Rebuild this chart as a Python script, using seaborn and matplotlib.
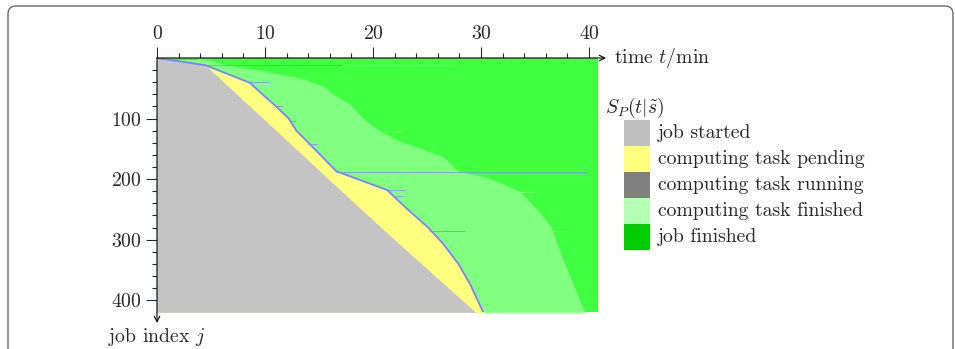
import numpy as np
import matplotlib
matplotlib.use("Agg")
import matplotlib.pyplot as plt
from matplotlib.patches import Rectangle, FancyBboxPatch
import seaborn as sns

# state boundaries per job (job index -> time t in min)
start_job = [0, 12, 136, 281, 420]
start_t = [0.0, 4.5, 12.0, 20.8, 29.5]

run_job = [0, 12, 41, 59, 78, 100, 120, 136, 187, 218, 250, 280, 307, 340, 374, 420]
run_t = [0.0, 4.5, 8.6, 9.7, 10.9, 12.2, 12.9, 13.8, 16.6, 21.3, 23.2, 25.1, 26.5, 27.9, 29.0, 30.2]

done_job = [0, 4, 9, 20, 34, 47, 61, 75, 100, 120, 136, 149, 163, 187, 197, 204,
            220, 243, 265, 280, 329, 368, 420]
done_t = [3.5, 5.0, 5.8, 9.5, 13.5, 15.5, 16.4, 17.8, 19.1, 20.6, 22.3, 24.4, 26.5,
          27.9, 30.5, 31.5, 33.6, 34.8, 35.9, 36.5, 37.5, 38.4, 39.6]

# single jobs whose computing task kept running longer
long_run_job = [2, 11, 40, 80, 104, 142, 188, 218, 228, 285]
long_run_from = [0.3, 4.2, 8.6, 11.0, 12.3, 13.9, 16.6, 21.3, 22.0, 25.2]
long_run_to = [3.8, 17.1, 10.5, 11.7, 12.9, 14.8, 39.8, 23.0, 22.8, 28.5]

# single jobs that finished late
late_job = [11, 121, 222, 285]
late_from = [17.1, 20.6, 33.6, 36.5]
late_to = [28.0, 22.7, 34.8, 38.2]

legend_labels = ["job started", "computing task pending", "computing task running",
                 "computing task finished", "job finished"]
legend_colors = ["#c0c0c0", "#ffff80", "#808080", "#b3ffb3", "#00cc00"]

n_jobs = 420
t_max = 40.8

c_started = "#c4c4c4"
c_pending = "#ffff80"
c_running = "#8080ff"
c_task_done = "#80ff80"
c_done = "#40ff40"

sns.set_style("white")
plt.rcParams["font.family"] = "serif"
plt.rcParams["font.serif"] = ["cmr10"]
plt.rcParams["mathtext.fontset"] = "cm"
plt.rcParams["axes.formatter.use_mathtext"] = True

W, H = 955, 349
fx = lambda px: px / W
fy = lambda py: 1 - py / H
fs = 14.2

fig = plt.figure(figsize=(9.55, 3.49), dpi=100)
ax = fig.add_axes([fx(157), fy(312.3), (597.7 - 157) / W, (312.3 - 58) / H])

# paint the states back to front
ax.fill_betweenx([0, n_jobs], 0, t_max, color=c_done, lw=0)
ax.fill_betweenx(done_job, 0, done_t, color=c_task_done, lw=0)
ax.fill_betweenx(run_job, 0, run_t, color=c_pending, lw=0)
ax.fill_betweenx(start_job, 0, start_t, color=c_started, lw=0)
ax.hlines(late_job, late_from, late_to, color=c_task_done, lw=0.6)
ax.hlines(long_run_job, long_run_from, long_run_to, color=c_running, lw=0.6, alpha=0.8)
sns.lineplot(x=run_t, y=run_job, orient="y", sort=False, estimator=None,
             color=c_running, lw=1.3, ax=ax)

ax.set_xlim(0, t_max)
ax.set_ylim(n_jobs, 0)
ax.set_xlabel("")
ax.set_ylabel("")
for s in ax.spines.values():
    s.set_visible(False)

ax.set_xticks([0, 10, 20, 30, 40])
ax.set_xticks(np.arange(0, 41, 2), minor=True)
ax.set_yticks([100, 200, 300, 400])
ax.set_yticks(np.arange(20, 420, 20), minor=True)
ax.tick_params(top=True, bottom=False, labeltop=True, labelbottom=False,
               left=True, right=False, which="both", direction="out", width=0.8)
ax.tick_params(which="major", length=8, labelsize=fs, pad=3)
ax.tick_params(which="minor", length=3.8)

# axis arrows
arrow = dict(arrowstyle="->", lw=0.8, color="black", shrinkA=0, shrinkB=0)
ax.annotate("", xy=(606, H - 58), xytext=(157, H - 58), xycoords="figure pixels",
            textcoords="figure pixels", arrowprops=arrow, annotation_clip=False)
ax.annotate("", xy=(157, H - 323), xytext=(157, H - 58), xycoords="figure pixels",
            textcoords="figure pixels", arrowprops=arrow, annotation_clip=False)
fig.text(fx(614), fy(58), "time $t$/min", ha="left", va="center", fontsize=fs)
fig.text(fx(108), fy(337), "job index $j$", ha="left", va="center", fontsize=fs)

# legend
fig.text(fx(605), fy(108), r"$S_P(t|\tilde{s})$", ha="left", va="center", fontsize=fs)
for i, (lab, col) in enumerate(zip(legend_labels, legend_colors)):
    top = 120 + 26 * i
    fig.add_artist(Rectangle((fx(624), fy(top + 26)), 26 / W, 26 / H,
                             transform=fig.transFigure, color=col, lw=0))
    fig.text(fx(658), fy(top + 13), lab, ha="left", va="center", fontsize=fs)

# rounded frame
fig.add_artist(FancyBboxPatch((8, -20), 945, H - 6 + 20, boxstyle="round,pad=0,rounding_size=8",
                              transform=None, fill=False, ec="#666666", lw=1))

fig.savefig("out.png", dpi=100)
